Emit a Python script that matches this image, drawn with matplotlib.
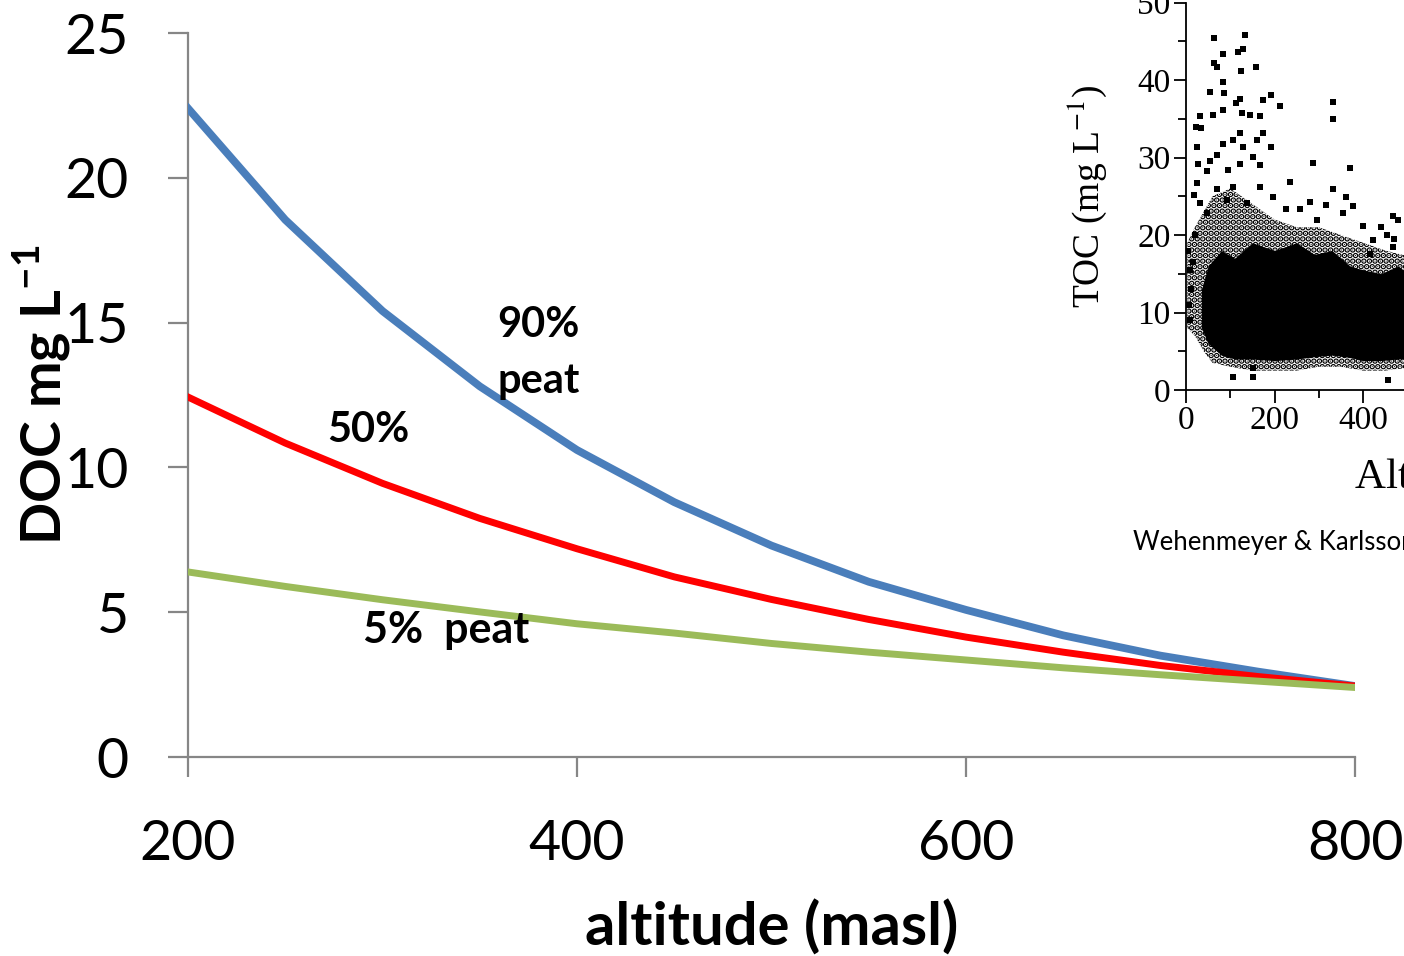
import matplotlib
matplotlib.use("Agg")
import matplotlib.pyplot as plt
from matplotlib.ticker import MultipleLocator

plt.rcParams['font.family'] = ['Lato', 'DejaVu Sans']
plt.rcParams['mathtext.fontset'] = 'custom'
plt.rcParams['mathtext.rm'] = 'Lato'
plt.rcParams['mathtext.bf'] = 'Lato:bold'
plt.rcParams['hatch.linewidth'] = 3.0

# ---- main chart data ----
altitude = [200, 250, 300, 350, 400, 450, 500, 550, 600, 650, 700, 750, 800]
peat90 = [22.4, 18.55, 15.4, 12.8, 10.6, 8.8, 7.3, 6.05, 5.08, 4.2, 3.5, 2.95, 2.45]
peat50 = [12.43, 10.84, 9.45, 8.24, 7.19, 6.22, 5.44, 4.75, 4.14, 3.62, 3.16, 2.78, 2.45]
peat5 = [6.39, 5.89, 5.43, 5.01, 4.60, 4.28, 3.92, 3.62, 3.35, 3.08, 2.84, 2.62, 2.40]
x_ticks = [200, 400, 600, 800]
y_ticks = [0, 5, 10, 15, 20, 25]

# ---- inset (Wehenmeyer & Karlsson) data ----
inset_alt = [63, 133, 128, 118, 84, 63, 69, 158, 124, 83, 54, 86, 193, 173, 122,
             332, 212, 332, 32, 62, 126, 145, 168, 23, 35, 84, 114, 122, 173, 107,
             160, 84, 24, 128, 193, 69, 152, 287, 28, 54, 167, 95, 47, 122, 370,
             235, 24, 332, 167, 107, 69, 362, 17, 197, 377, 280, 317, 257, 227, 468,
             468, 423, 295, 355, 400, 20, 32, 47, 92, 137, 107, 152, 456, 152,
             5, 8, 12, 6, 10, 15, 440, 455, 470, 480, 415]
inset_toc = [45.4, 45.8, 44.0, 43.6, 43.4, 42.2, 41.7, 41.7, 41.1, 39.8, 38.5, 38.3, 38.1, 37.4, 37.6,
             37.2, 36.6, 35.0, 35.3, 35.5, 35.7, 35.5, 35.3, 34.0, 33.8, 36.1, 37.0, 33.1, 33.1, 32.3,
             32.3, 31.8, 31.4, 31.4, 31.4, 30.3, 30.1, 29.3, 29.2, 29.5, 29.0, 28.4, 28.2, 29.2, 28.6,
             26.9, 26.7, 26.0, 26.2, 26.2, 26.0, 24.9, 25.2, 24.9, 23.7, 24.3, 23.9, 23.4, 23.4, 22.4,
             18.5, 19.4, 21.9, 22.8, 21.1, 20.0, 24.1, 22.8, 24.5, 24.1, 1.7, 1.7, 1.3, 2.8,
             18.0, 15.5, 13.0, 11.0, 9.0, 16.5, 21.0, 20.0, 19.5, 22.0, 17.5]
# speckled envelope of the dense cloud
speck_alt = [3, 20, 40, 60, 100, 150, 200, 250, 300, 350, 400, 450, 520]
speck_hi = [19, 21, 23, 25, 26, 24, 22, 21, 21, 20, 19, 18, 17]
speck_lo = [8, 7, 5, 3.5, 3, 2.5, 2.5, 2.5, 3, 3, 2.5, 2.5, 3]
# solid core of the dense cloud
core_alt = [35, 50, 80, 110, 150, 200, 250, 290, 330, 370, 400, 440, 480, 520]
core_hi = [13, 16, 18, 17, 19, 18, 19, 17.5, 18, 16, 15.5, 15, 16, 14]
core_lo = [8, 6, 4.5, 4, 4, 3.8, 4, 4.3, 4.5, 4.2, 3.8, 3.8, 4, 4.2]

fig = plt.figure(figsize=(14.04, 9.56), dpi=100)
ax = fig.add_axes([188 / 1404, 1 - 757 / 956, 1167 / 1404, 724 / 956])
ax.set_facecolor('none')

ax.plot(altitude, peat90, color='#4A7EBB', lw=5.6, solid_joinstyle='round', zorder=3)
ax.plot(altitude, peat50, color='#FF0000', lw=5.0, solid_joinstyle='round', zorder=4)
ax.plot(altitude, peat5, color='#9BBB59', lw=5.0, solid_joinstyle='round', zorder=5)

ax.set_xlim(200, 800)
ax.set_ylim(0, 25)
ax.set_xticks(x_ticks)
ax.set_yticks(y_ticks)
for s in ['top', 'right']:
    ax.spines[s].set_visible(False)
for s in ['left', 'bottom']:
    ax.spines[s].set_color('#868686')
    ax.spines[s].set_linewidth(1.6)
ax.tick_params(axis='both', colors='#868686', length=14.5, width=1.6, labelcolor='black',
               labelsize=40)
ax.tick_params(axis='y', pad=28)
ax.tick_params(axis='x', pad=30)

ax.set_xlabel('altitude (masl)', fontsize=43, fontweight='bold')
ax.xaxis.set_label_coords(0.5, -0.197)
ax.set_ylabel(r'DOC mg L$^{\mathbf{-1}}$', fontsize=40, fontweight='bold')
ax.yaxis.set_label_coords(-0.099, 0.5)

ax.text(359, 14.5, '90%', fontsize=30, fontweight='bold', va='baseline', ha='left', zorder=6)
ax.text(359, 12.57, 'peat', fontsize=30, fontweight='bold', va='baseline', ha='left', zorder=6)
ax.text(271.5, 10.88, '50%', fontsize=30, fontweight='bold', va='baseline', ha='left', zorder=6)
ax.text(290, 3.94, '5%  peat', fontsize=31, fontweight='bold', va='baseline', ha='left', zorder=6)

# ---- inset ----
ix0, iy0 = 1186, 390
ipx_alt, ipx_toc = 0.4425, 7.75
iw = 1000 * ipx_alt
ih = 50 * ipx_toc
ins = fig.add_axes([ix0 / 1404, 1 - iy0 / 956, iw / 1404, ih / 956])
ins.set_facecolor('none')
ins.set_xlim(0, 1000)
ins.set_ylim(0, 50)
ins.fill_between(speck_alt, speck_lo, speck_hi, hatch='...', facecolor='none',
                 edgecolor='black', linewidth=0)
ins.fill_between(core_alt, core_lo, core_hi, color='black', linewidth=0)
ins.scatter(inset_alt, inset_toc, marker='s', s=14, color='black', linewidths=0)
for s in ['top', 'right']:
    ins.spines[s].set_visible(False)
for s in ['left', 'bottom']:
    ins.spines[s].set_linewidth(1.3)
ins.xaxis.set_major_locator(MultipleLocator(200))
ins.xaxis.set_minor_locator(MultipleLocator(100))
ins.yaxis.set_major_locator(MultipleLocator(10))
ins.yaxis.set_minor_locator(MultipleLocator(5))
ins.tick_params(which='major', length=9, width=1.3, labelsize=24, pad=2)
ins.tick_params(which='minor', length=6, width=1.3)
for lab in ins.get_xticklabels() + ins.get_yticklabels():
    lab.set_fontfamily('Liberation Serif')
ins.set_ylabel(r'TOC (mg L$^{-1}$)', fontsize=27, fontfamily='Liberation Serif',
               math_fontfamily='stix')
ins.yaxis.set_label_coords(-0.175, 0.5)
fig.text(1355 / 1404, 1 - 488 / 956, 'Altitude (m)', fontsize=31,
         fontfamily='Liberation Serif', ha='left', va='baseline')
fig.text(1133 / 1404, 1 - 550 / 956, 'Wehenmeyer & Karlsson', fontsize=18.5,
         ha='left', va='baseline')

fig.savefig('out.png', dpi=100)
